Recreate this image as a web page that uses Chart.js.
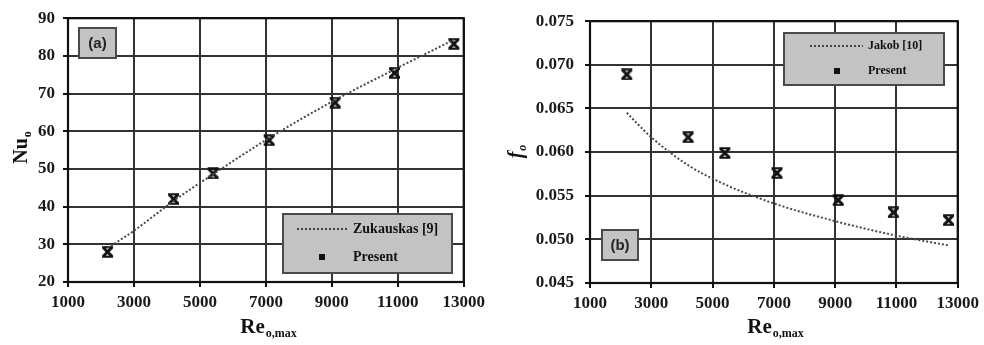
<!DOCTYPE html>
<html>
<head>
<meta charset="utf-8">
<script src="https://cdn.jsdelivr.net/npm/chart.js@4.4.1/dist/chart.umd.min.js"></script>
<style>
html,body{margin:0;padding:0;background:#fff;}
#wrap{position:relative;width:984px;height:345px;overflow:hidden;}
#ca{position:absolute;left:0;top:0;}
#cb{position:absolute;left:490px;top:0;}
</style>
</head>
<body>
<div id="wrap">
<canvas id="ca" width="490" height="345"></canvas>
<canvas id="cb" width="494" height="345"></canvas>
</div>
<script>
// ---- data ----
const reX = [2200, 4200, 5400, 7100, 9100, 10900, 12700];
const nuPresent = [28.0, 42.0, 48.8, 57.6, 67.6, 75.5, 83.2];
const zukX = [2200, 3000, 4200, 5400, 7100, 9100, 10900, 12700];
const zukY = [29.0, 33.6, 41.5, 48.6, 58.2, 68.3, 76.4, 84.3];
const fPresent = [0.0689, 0.0617, 0.0599, 0.0576, 0.0545, 0.0531, 0.0522];
const jakX = [2200, 3000, 4200, 5400, 7100, 9100, 10900, 12700];
const jakY = [0.0645, 0.0617, 0.0585, 0.0563, 0.0540, 0.0520, 0.0505, 0.0493];
const xTicks = [1000, 3000, 5000, 7000, 9000, 11000, 13000];
const nuTicks = [20, 30, 40, 50, 60, 70, 80, 90];
const fTicks = [0.045, 0.050, 0.055, 0.060, 0.065, 0.070, 0.075];
const legendA = ['Zukauskas [9]', 'Present'];
const legendB = ['Jakob [10]', 'Present'];

// ---- helpers ----
function makeMarker(){
  const c = document.createElement('canvas');
  c.width = 13; c.height = 12;
  const g = c.getContext('2d');
  g.strokeStyle = '#111'; g.lineWidth = 3; g.lineCap = 'butt';
  g.beginPath();
  g.moveTo(2,1.5); g.lineTo(11,10.5);
  g.moveTo(11,1.5); g.lineTo(2,10.5);
  g.stroke();
  g.lineWidth = 2;
  g.beginPath();
  g.moveTo(1,1.2); g.lineTo(12,1.2);
  g.moveTo(1,10.8); g.lineTo(12,10.8);
  g.stroke();
  return c;
}
const marker = makeMarker();
const pts = (xs, ys) => xs.map((x,i)=>({x:x, y:ys[i]}));

function subText(ctx, cx, cy, main, sub, mainFont, subFont, rot, drop){
  ctx.save();
  ctx.translate(cx, cy);
  if (rot) ctx.rotate(rot);
  ctx.fillStyle = '#111';
  ctx.textBaseline = 'alphabetic';
  ctx.textAlign = 'left';
  ctx.font = mainFont;
  const w1 = ctx.measureText(main).width;
  ctx.font = subFont;
  const w2 = ctx.measureText(sub).width;
  const x0 = -(w1 + w2) / 2;
  ctx.font = mainFont;
  ctx.fillText(main, x0, 6);
  ctx.font = subFont;
  ctx.fillText(sub, x0 + w1 + 1, 6 + drop);
  ctx.restore();
}

function grayBox(ctx, x, y, w, h){
  ctx.save();
  ctx.fillStyle = '#c3c3c3';
  ctx.fillRect(x, y, w, h);
  ctx.strokeStyle = '#4a4a4a';
  ctx.lineWidth = 2;
  ctx.strokeRect(x, y, w, h);
  ctx.restore();
}

function frame(chart){
  const a = chart.chartArea, ctx = chart.ctx;
  ctx.save();
  ctx.strokeStyle = '#111';
  ctx.lineWidth = 2.2;
  ctx.strokeRect(a.left, a.top, a.right - a.left, a.bottom - a.top);
  ctx.restore();
}

function legend(ctx, box, lineY, lineX1, lineX2, textX, sqX, sqY, labels, font){
  grayBox(ctx, box[0], box[1], box[2], box[3]);
  ctx.save();
  ctx.strokeStyle = '#444';
  ctx.lineWidth = 2;
  ctx.setLineDash([2, 2]);
  ctx.beginPath(); ctx.moveTo(lineX1, lineY); ctx.lineTo(lineX2, lineY); ctx.stroke();
  ctx.setLineDash([]);
  ctx.fillStyle = '#111';
  ctx.fillRect(sqX - 3, sqY - 3, 6, 6);
  ctx.font = font;
  ctx.textBaseline = 'middle';
  ctx.textAlign = 'left';
  ctx.fillText(labels[0], textX, lineY);
  ctx.fillText(labels[1], textX, sqY);
  ctx.restore();
}

function tagBox(ctx, x, y, w, h, label){
  grayBox(ctx, x, y, w, h);
  ctx.save();
  ctx.fillStyle = '#222';
  ctx.font = 'bold 15px "Liberation Sans", Arial, sans-serif';
  ctx.textAlign = 'center';
  ctx.textBaseline = 'middle';
  ctx.fillText(label, x + w/2, y + h/2 + 1);
  ctx.restore();
}

const tickFont = {family: '"Liberation Serif", "Times New Roman", serif', size: 17, weight: 'bold'};
function axes(xw, yw, yTicks, yFmt, yPad){
  const grid = {color: '#333', lineWidth: 2, tickLength: 5, drawTicks: true, tickColor: '#111', tickWidth: 2};
  return {
    x: {
      type: 'linear', min: 1000, max: 13000,
      afterBuildTicks: s => { s.ticks = xTicks.map(v => ({value: v})); },
      afterFit: s => { s.height = xw; },
      ticks: {font: tickFont, color: '#1a1a1a', padding: 5, maxRotation: 0, autoSkip: false, callback: v => String(v)},
      grid: grid,
      border: {color: '#111', width: 2}
    },
    y: {
      type: 'linear', min: yTicks[0], max: yTicks[yTicks.length-1],
      afterBuildTicks: s => { s.ticks = yTicks.map(v => ({value: v})); },
      afterFit: s => { s.width = yw; },
      ticks: {font: tickFont, color: '#1a1a1a', padding: yPad, autoSkip: false, callback: yFmt},
      grid: grid,
      border: {color: '#111', width: 2}
    }
  };
}

const serifB = '"Liberation Serif", "Times New Roman", serif';

// ---- chart (a) ----
new Chart(document.getElementById('ca'), {
  type: 'scatter',
  data: {
    datasets: [
      {label: legendA[0], data: pts(zukX, zukY), showLine: true, borderColor: '#4a4a4a', borderWidth: 2,
       borderDash: [2, 2], pointRadius: 0, tension: 0.3, cubicInterpolationMode: 'monotone', fill: false},
      {label: legendA[1], data: pts(reX, nuPresent), showLine: false, pointStyle: marker, pointRadius: 6}
    ]
  },
  options: {
    responsive: false, animation: false, devicePixelRatio: 1,
    layout: {padding: {left: 0, right: 23, top: 14, bottom: 0}},
    plugins: {legend: {display: false}, tooltip: {enabled: false}},
    scales: axes(63, 68, nuTicks, v => String(v), 8)
  },
  plugins: [{
    id: 'decorA',
    afterDraw(chart){
      const ctx = chart.ctx;
      frame(chart);
      tagBox(ctx, 79, 28, 37, 30, '(a)');
      legend(ctx, [283, 214, 169, 59], 229, 297, 348, 353, 322, 257, legendA, 'bold 14px ' + serifB);
      subText(ctx, 268, 327, 'Re', 'o,max', 'bold 21px ' + serifB, 'bold 12px ' + serifB, 0, 4);
      subText(ctx, 21, 148, 'Nu', 'o', 'bold 20px ' + serifB, 'bold 12px ' + serifB, -Math.PI/2, 4);
    }
  }]
});

// ---- chart (b) ----
new Chart(document.getElementById('cb'), {
  type: 'scatter',
  data: {
    datasets: [
      {label: legendB[0], data: pts(jakX, jakY), showLine: true, borderColor: '#4a4a4a', borderWidth: 2,
       borderDash: [2, 2], pointRadius: 0, tension: 0.4, cubicInterpolationMode: 'monotone', fill: false},
      {label: legendB[1], data: pts(reX, fPresent), showLine: false, pointStyle: marker, pointRadius: 6}
    ]
  },
  options: {
    responsive: false, animation: false, devicePixelRatio: 1,
    layout: {padding: {left: 0, right: 24, top: 21, bottom: 0}},
    plugins: {legend: {display: false}, tooltip: {enabled: false}},
    scales: axes(62, 100, fTicks, v => Number(v).toFixed(3), 11)
  },
  plugins: [{
    id: 'decorB',
    afterDraw(chart){
      const ctx = chart.ctx;
      frame(chart);
      tagBox(ctx, 112, 230, 36, 30, '(b)');
      legend(ctx, [294, 33, 160, 52], 46, 320, 373, 378, 347, 71, legendB, 'bold 12px ' + serifB);
      subText(ctx, 285, 327, 'Re', 'o,max', 'bold 21px ' + serifB, 'bold 12px ' + serifB, 0, 4);
      subText(ctx, 26, 152, 'f', 'o', 'bold italic 20px ' + serifB, 'bold italic 12px ' + serifB, -Math.PI/2, 4);
    }
  }]
});
</script>
</body>
</html>
